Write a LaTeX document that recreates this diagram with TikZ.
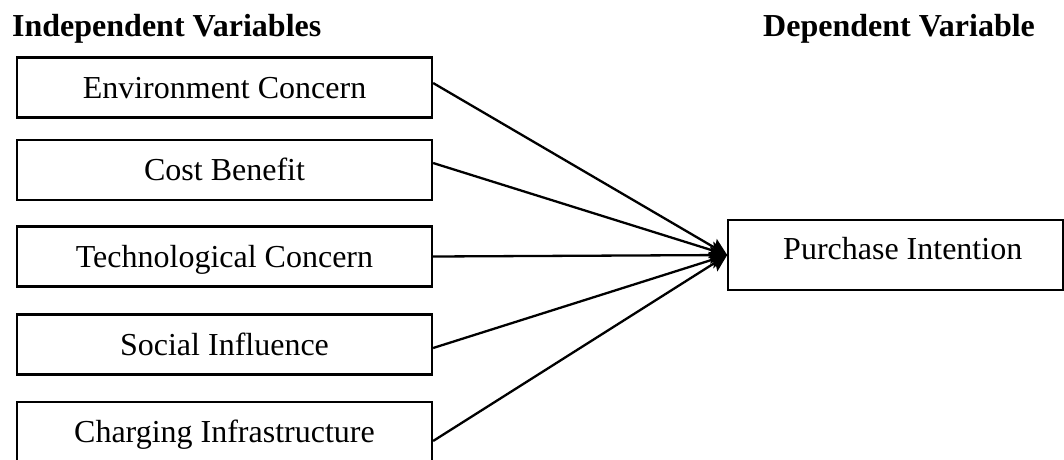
\documentclass[tikz,border=0pt]{standalone}
\usepackage{fontspec}
\setmainfont{Liberation Serif}
\usetikzlibrary{arrows.meta,calc}
\begin{document}
\begin{tikzpicture}[x=1pt,y=-1pt,
  bigfont/.style={font=\fontsize{32}{38}\selectfont},
  ivbox/.style={draw, line width=2.2pt, minimum width=415pt, minimum height=60pt,
    inner sep=0pt, text height=21pt, text depth=0pt, bigfont},
  dvbox/.style={draw, line width=1.6pt, minimum width=335pt, minimum height=70pt,
    inner sep=0pt},
  heading/.style={anchor=base west, inner sep=0pt,
    font=\fontsize{32}{38}\selectfont\bfseries},
  link/.style={line width=2.3pt, -{Stealth[length=17pt,width=17pt,inset=3pt]}}]
\useasboundingbox (0,0) rectangle (1064,459);

% column headings
\node[heading] (hIV) at (12,36) {Independent Variables};
\node[heading] (hDV) at (763,36) {Dependent Variable};

% independent variables
\node[ivbox] (ec) at (224.5,87.5) {Environment Concern};
\node[ivbox] (cb) at (224.5,170) {Cost Benefit};
\node[ivbox] (tc) at (224.5,256.5) {Technological Concern};
\node[ivbox] (si) at (224.5,344.5) {Social Influence};
\node[ivbox] (ci) at (224.5,432) {Charging Infrastructure};

% dependent variable
\node[dvbox] (pi) at (895.5,255) {};
\node[anchor=base west, inner sep=0pt, bigfont] (piText) at (783,259) {Purchase Intention};

% paths
\draw[link] ([yshift=4.5pt]ec.east) -- (pi.west);
\draw[link] ([yshift=7pt]cb.east) -- (pi.west);
\draw[link] (tc.east) -- (pi.west);
\draw[link] ([yshift=-3.5pt]si.east) -- (pi.west);
\draw[link] ([yshift=-9pt]ci.east) -- (pi.west);
\end{tikzpicture}
\end{document}
